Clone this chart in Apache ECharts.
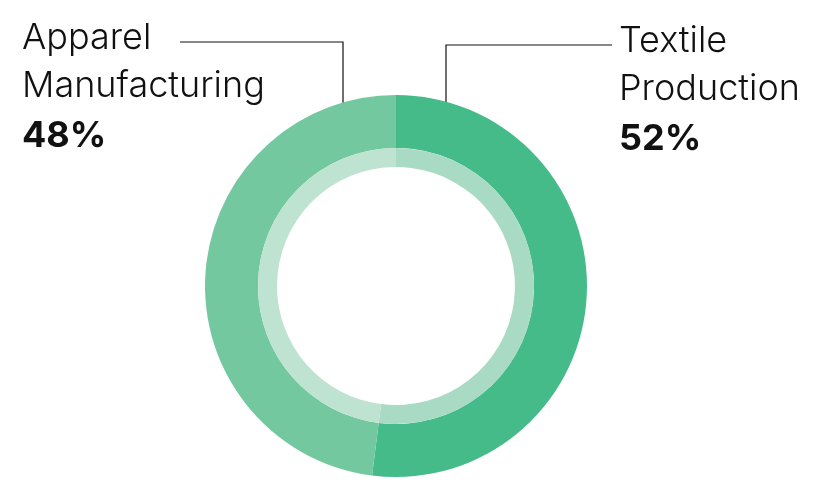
<!DOCTYPE html>
<html><head><meta charset="utf-8">
<script src="https://cdn.jsdelivr.net/npm/echarts@6/dist/echarts.min.js"></script>
<style>html,body{margin:0;background:#fff}#c{width:838px;height:502px}</style>
</head><body><div id="c"></div>
<script>
const categories = ['Textile Production', 'Apparel Manufacturing'];
const values = [52, 48];
const outerColors = ['#45BB8A', '#74C8A0'];
const innerColors = ['#A9DAC3', '#BEE3D1'];
const nameLines = [['Textile', 'Production'], ['Apparel', 'Manufacturing']];

const chart = echarts.init(document.getElementById('c'));
const data = (cols) => categories.map((n, i) => ({ name: n, value: values[i], itemStyle: { color: cols[i] } }));
const textStyle = (lines, pct, x, y) => ({
  type: 'text', left: x, top: y,
  style: {
    text: lines.map(l => '{n|' + l + '}').join('\n') + '\n{p|' + pct + '%}',
    rich: {
      n: { fontFamily: 'Inter', fontWeight: 300, fontSize: 36, lineHeight: 48, fill: '#111' },
      p: { fontFamily: 'Inter', fontWeight: 700, fontSize: 36, lineHeight: 52, fill: '#111' }
    }
  }
});
chart.setOption({
  animation: false,
  series: [
    { type: 'pie', center: [396, 286], radius: [138, 191], startAngle: 90, clockwise: true,
      label: { show: false }, labelLine: { show: false }, silent: true, data: data(outerColors) },
    { type: 'pie', center: [396, 286], radius: [119, 138], startAngle: 90, clockwise: true,
      label: { show: false }, labelLine: { show: false }, silent: true, data: data(innerColors) }
  ],
  graphic: [
    { type: 'polyline', shape: { points: [[446, 114], [446, 45], [612, 45]] }, style: { stroke: '#111', lineWidth: 1.2, fill: null } },
    { type: 'circle', shape: { cx: 446, cy: 114, r: 3 }, style: { fill: '#111' } },
    { type: 'polyline', shape: { points: [[343, 124], [343, 42], [180, 42]] }, style: { stroke: '#111', lineWidth: 1.2, fill: null } },
    { type: 'circle', shape: { cx: 343, cy: 124, r: 3 }, style: { fill: '#111' } },
    textStyle(nameLines[0], values[0], 619, 23),
    textStyle(nameLines[1], values[1], 22, 20)
  ]
});
</script></body></html>
